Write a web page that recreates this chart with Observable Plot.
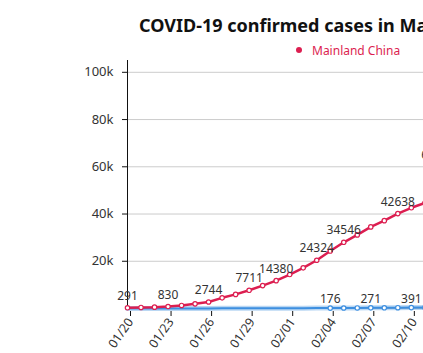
<!DOCTYPE html>
<html><head><meta charset="utf-8">
<script src="https://cdn.jsdelivr.net/npm/d3@7"></script>
<script src="https://cdn.jsdelivr.net/npm/@observablehq/plot@0.6"></script>
<style>
html,body{margin:0;padding:0;background:#fff;}
#wrap{width:423px;height:353px;overflow:hidden;position:relative;font-family:"Noto Sans",sans-serif;}
#title{height:26px;padding-top:12px;padding-left:139px;font-size:18px;font-weight:bold;line-height:26px;white-space:nowrap;color:#111;}
#legend{height:18px;padding-top:4px;padding-left:296px;font-size:12px;line-height:18px;color:#dc1e50;white-space:nowrap;}
#legend .dot{display:inline-block;width:6px;height:6px;border-radius:3px;background:#dc1e50;margin-right:10px;vertical-align:2px;}
#chart svg{display:block;max-width:none !important;}
</style></head><body>
<div id="wrap">
  <div id="title">COVID-19 confirmed cases in Mainland China and outside</div>
  <div id="legend"><span class="dot"></span>Mainland China</div>
  <div id="chart"></div>
</div>
<script>
const dates = ["2020-01-20","2020-01-21","2020-01-22","2020-01-23","2020-01-24","2020-01-25","2020-01-26","2020-01-27","2020-01-28","2020-01-29","2020-01-30","2020-01-31","2020-02-01","2020-02-02","2020-02-03","2020-02-04","2020-02-05","2020-02-06","2020-02-07","2020-02-08","2020-02-09","2020-02-10","2020-02-11","2020-02-12","2020-02-13"];
const mainland = [291,440,571,830,1287,1975,2744,4515,5974,7711,9692,11791,14380,17205,20438,24324,28018,31161,34546,37198,40171,42638,44653,59804,63851];
const outside = [4,6,9,13,21,30,42,56,68,82,105,132,146,153,164,176,207,238,271,302,330,391,440,450,500];
const outsideDotsFrom = "2020-02-04";

const mainlandLabelDates = ["2020-01-20","2020-01-23","2020-01-26","2020-01-29","2020-01-31","2020-02-03","2020-02-05","2020-02-09","2020-02-12"];
const mainlandLabelTexts = ["291","830","2744","7711","14380","24324","34546","42638","63851"];
const outsideLabelDates = ["2020-02-04","2020-02-07","2020-02-10"];
const outsideLabelTexts = ["176","271","391"];

const xTickDates = ["2020-01-20","2020-01-23","2020-01-26","2020-01-29","2020-02-01","2020-02-04","2020-02-07","2020-02-10","2020-02-13","2020-02-16","2020-02-19"];
const yTicks = [20000,40000,60000,80000,100000];
const xDomain = ["2020-01-20","2020-02-20"];
const yDomain = [0,105000];

const parse = d3.utcParse("%Y-%m-%d");
const rows = dates.map((d,i)=>({date:parse(d), mainland:mainland[i], outside:outside[i]}));
const byDate = new Map(rows.map(r=>[+r.date, r]));
const mLabels = mainlandLabelDates.map((d,i)=>({date:parse(d), text:mainlandLabelTexts[i], v:byDate.get(+parse(d)).mainland}));
const oLabels = outsideLabelDates.map((d,i)=>({date:parse(d), text:outsideLabelTexts[i], v:byDate.get(+parse(d)).outside}));
const oDots = rows.filter(r=>r.date>=parse(outsideDotsFrom));

const RED = "#dc1e50", BLUE = "#3d8fe0";

const chart = Plot.plot({
  width: 566, height: 294,
  marginLeft: 127, marginRight: 20, marginTop: 0, marginBottom: 46,
  style: {fontFamily: '"Noto Sans", sans-serif', background: "transparent", maxWidth: "none"},
  x: {type: "utc", domain: xDomain.map(parse)},
  y: {domain: yDomain},
  marks: [
    Plot.gridY({ticks: yTicks, stroke: "#cccccc", strokeOpacity: 1}),
    Plot.axisY({ticks: yTicks, tickFormat: d => d/1000 + "k", tickSize: 5, tickPadding: 9, fontSize: 13, fill: "#333", stroke: "#111", label: null}),
    Plot.axisX({ticks: xTickDates.map(parse), tickFormat: d3.utcFormat("%m/%d"), tickRotate: -55, tickSize: 5, tickPadding: 3, fontSize: 12.5, fill: "#333", stroke: "#111", label: null, textStroke: "none", dx: 3, dy: 3}),
    Plot.ruleX([parse(xDomain[0])], {stroke: "#111"}),
    Plot.ruleY([0], {stroke: "#333"}),
    Plot.line(rows, {x: "date", y: "outside", stroke: "#a9cdf0", strokeWidth: 5, strokeOpacity: 0.8}),
    Plot.line(rows, {x: "date", y: "outside", stroke: BLUE, strokeWidth: 2}),
    Plot.dot(oDots, {x: "date", y: "outside", r: 2.2, fill: "white", stroke: BLUE, strokeWidth: 1.2}),
    Plot.line(rows, {x: "date", y: "mainland", stroke: RED, strokeWidth: 2.5}),
    Plot.dot(rows, {x: "date", y: "mainland", r: 2.2, fill: "white", stroke: RED, strokeWidth: 1.2}),
    Plot.text(mLabels, {x: "date", y: "v", text: "text", dy: -8, lineAnchor: "bottom", fontSize: 12, fill: "#333"}),
    Plot.text(oLabels, {x: "date", y: "v", text: "text", dy: -5, lineAnchor: "bottom", fontSize: 12, fill: "#333"})
  ]
});
document.getElementById("chart").appendChild(chart);
</script>
</body></html>
